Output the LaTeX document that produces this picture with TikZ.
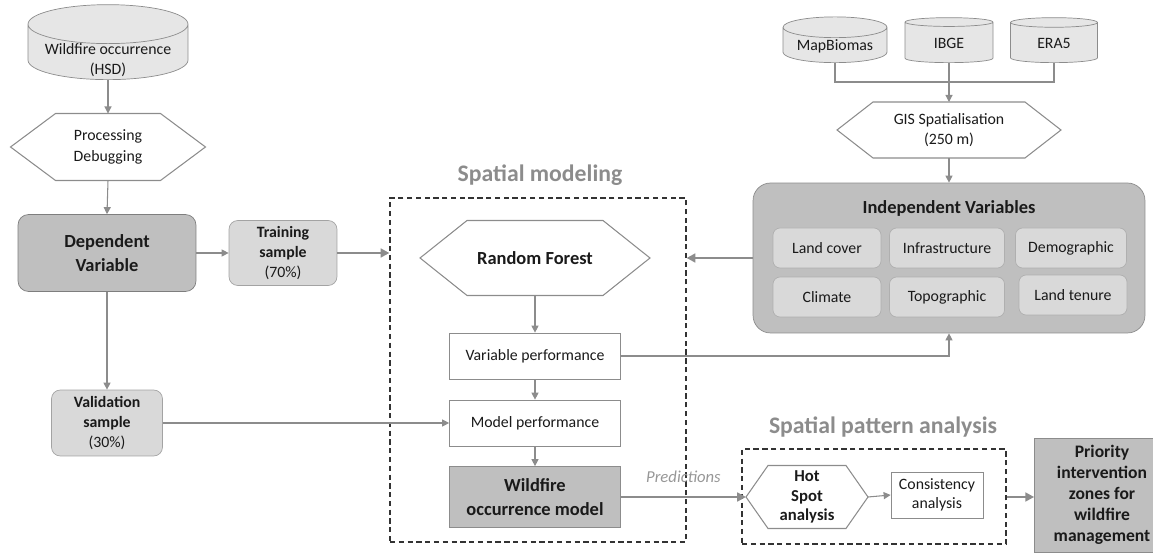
\documentclass[tikz,border=0pt]{standalone}
\usepackage{fontspec}
\setmainfont{Carlito}
\usepackage{xcolor}
\usetikzlibrary{arrows.meta,calc,shapes.geometric}
\definecolor{linegray}{HTML}{8C8C8C}
\definecolor{darkfill}{HTML}{BFBFBF}
\definecolor{lightfill}{HTML}{D9D9D9}
\definecolor{cylfill}{HTML}{E6E6E6}
\definecolor{titlegray}{HTML}{8C8C8C}
\definecolor{txt}{HTML}{1A1A1A}
\tikzset{
  db/.style={cylinder,shape border rotate=90,aspect=0.3,anchor=south,draw=linegray,fill=cylfill,align=center,inner sep=1pt,font=\fontsize{9}{11}\selectfont},
  lab/.style={align=center,font=\fontsize{9}{11.5}\selectfont},
  hexa/.style={rectangle,align=center,inner sep=1pt,outer sep=0pt},
  hexedge/.style={draw=linegray,line width=.6pt},
  darkbox/.style={rectangle,rounded corners=6pt,draw=linegray!90!black,fill=darkfill,align=center,font=\fontsize{10.5}{13.5}\selectfont\bfseries},
  lightbox/.style={rectangle,rounded corners=5pt,draw=linegray!80,fill=lightfill,align=center,font=\fontsize{9}{11.3}\selectfont},
  subbox/.style={rectangle,rounded corners=4pt,draw=linegray!70,fill=lightfill,minimum height=0.8cm,inner sep=1pt,font=\fontsize{9}{11}\selectfont},
  plainbox/.style={rectangle,draw=linegray,fill=white,align=center,minimum width=3.42cm,minimum height=0.92cm,font=\fontsize{9}{11}\selectfont},
  darksq/.style={rectangle,draw=linegray,fill=darkfill,align=center,font=\fontsize{10.5}{13.5}\selectfont\bfseries},
  dashbox/.style={rectangle,draw=black!80,line width=.7pt,dash pattern=on 3pt off 2pt},
  secttitle/.style={text=titlegray,font=\fontsize{13.5}{16}\selectfont\bfseries},
  conn/.style={draw=linegray,line width=.6pt},
  arr/.style={conn,-{Triangle[length=4pt,width=4pt]}},
  thickarr/.style={draw=linegray,line width=1.5pt,-{Triangle[length=5pt,width=5pt]}},
  pred/.style={text=linegray!90,font=\fontsize{9.5}{11}\selectfont\itshape}
}
% hexagon outline round a named node, #2 = slant in px
\newcommand{\hexline}[2]{%
  \draw[hexedge] (#1.west) -- ($(#1.north west)+(#2,0)$) -- ($(#1.north east)-(#2,0)$)
    -- (#1.east) -- ($(#1.south east)-(#2,0)$) -- ($(#1.south west)+(#2,0)$) -- cycle;}
\begin{document}
\begin{tikzpicture}[x=0.02cm,y=-0.02cm,text=txt]
  \useasboundingbox (0,0) rectangle (1153,553);
  \clip (0,0) rectangle (1153,553);
  % left column
  \node[db,minimum width=3.2cm,minimum height=1.5cm] (hsd) at (108,80) {\phantom{Wildfire occurrence}};
  \node[lab] (hsdlab) at (108,60) {Wildfire occurrence\\(HSD)};
  \node[hexa,minimum width=3.9cm,minimum height=1.34cm,font=\fontsize{9}{11.5}\selectfont] (proc) at (108,147) {Processing\\Debugging};
  \hexline{proc}{45}
  \node[darkbox,minimum width=3.56cm,minimum height=1.54cm] (dep) at (107,253) {Dependent\\Variable};
  \node[lightbox,minimum width=2.16cm,minimum height=1.3cm] (train) at (283,253) {\textbf{Training}\\\textbf{sample}\\(70\%)};
  \node[lightbox,minimum width=2.22cm,minimum height=1.32cm] (valid) at (107,423) {\textbf{Validation}\\\textbf{sample}\\(30\%)};
  \draw[arr] (hsd.south) -- (proc.north);
  \draw[arr] (proc.south) -- (dep.north);
  \draw[arr] (dep.east) -- (train.west);
  \draw[arr] (dep.south) -- (valid.north);
  % spatial modeling
  \node[secttitle] (smtitle) at (540,175) {Spatial modeling};
  \node[dashbox,minimum width=5.92cm,minimum height=6.88cm] (smbox) at (538,370) {};
  \node[hexa,minimum width=4.6cm,minimum height=1.5cm,font=\fontsize{10.5}{13}\selectfont\bfseries] (rf) at (535,258) {Random Forest};
  \hexline{rf}{47}
  \node[plainbox] (varperf) at (535,356) {Variable performance};
  \node[plainbox] (modperf) at (535,423) {Model performance};
  \node[darksq,minimum width=3.42cm,minimum height=1.22cm] (wom) at (535,497) {Wildfire\\occurrence model};
  \draw[thickarr] (train.east) -- (train.east -| smbox.west);
  \draw[arr] (rf.south) -- (varperf.north);
  \draw[arr] (varperf.south) -- (modperf.north);
  \draw[arr] (modperf.south) -- (wom.north);
  \draw[arr] (valid.east) -- (modperf.west);
  % data sources
  \node[db,aspect=0.26,minimum width=2.08cm,minimum height=0.9cm] (mapb) at (835,63) {MapBiomas};
  \node[db,aspect=0.26,minimum width=1.76cm,minimum height=0.9cm] (ibge) at (949,63) {IBGE};
  \node[db,aspect=0.26,minimum width=1.74cm,minimum height=0.9cm] (era) at (1054,63) {ERA5};
  \coordinate (join) at (949,82);
  \node[hexa,minimum width=4.48cm,minimum height=1.12cm,font=\fontsize{9}{11.5}\selectfont] (gis) at (949,130) {GIS Spatialisation\\(250 m)};
  \hexline{gis}{36}
  \draw[conn] (mapb.south) |- (join -| era.south) -- (era.south);
  \draw[arr] (ibge.south) -- (gis.north);
  % independent variables
  \node[rectangle,rounded corners=10pt,draw=linegray,fill=darkfill,minimum width=7.84cm,minimum height=3cm] (indep) at (949,258) {};
  \node[font=\fontsize{10.5}{13}\selectfont\bfseries] (ivtitle) at (949,208) {Independent Variables};
  \node[subbox,minimum width=2.16cm] (land) at (827,248) {Land cover};
  \node[subbox,minimum width=2.3cm] (infra) at (947,248) {Infrastructure};
  \node[subbox,minimum width=2.22cm] (demo) at (1071,248) {Demographic};
  \node[subbox,minimum width=2.16cm] (clim) at (827,297) {Climate};
  \node[subbox,minimum width=2.3cm] (topo) at (947,297) {Topographic};
  \node[subbox,minimum width=2.16cm] (tenure) at (1073,295) {Land tenure};
  \draw[arr] (gis.south) -- (indep.north);
  \draw[thickarr] (indep.west) -- (indep.west -| smbox.east);
  \draw[arr] (varperf.east) -| (indep.south);
  % spatial pattern analysis
  \node[secttitle] (spatitle) at (883,427) {Spatial pattern analysis};
  \node[dashbox,minimum width=5.28cm,minimum height=1.9cm] (spabox) at (874,496.5) {};
  \node[hexa,minimum width=2.44cm,minimum height=1.26cm,font=\fontsize{9.5}{11.3}\selectfont\bfseries] (hot) at (807,497) {Hot\\Spot\\analysis};
  \hexline{hot}{22}
  \node[plainbox,minimum width=1.84cm] (consist) at (937,495) {Consistency\\analysis};
  \node[darksq,minimum width=2.7cm,minimum height=2.28cm,font=\fontsize{10}{11.9}\selectfont\bfseries] (prio) at (1102,495) {Priority\\intervention\\zones for\\wildfire\\management};
  \draw[thickarr] (wom.east) -- node[pred,above=4pt] {Predictions} (hot.west);
  \draw[arr] (hot.east) -- (consist.west);
  \draw[thickarr] (spabox.east |- hot) -- (prio.west |- hot);
\end{tikzpicture}
\end{document}
